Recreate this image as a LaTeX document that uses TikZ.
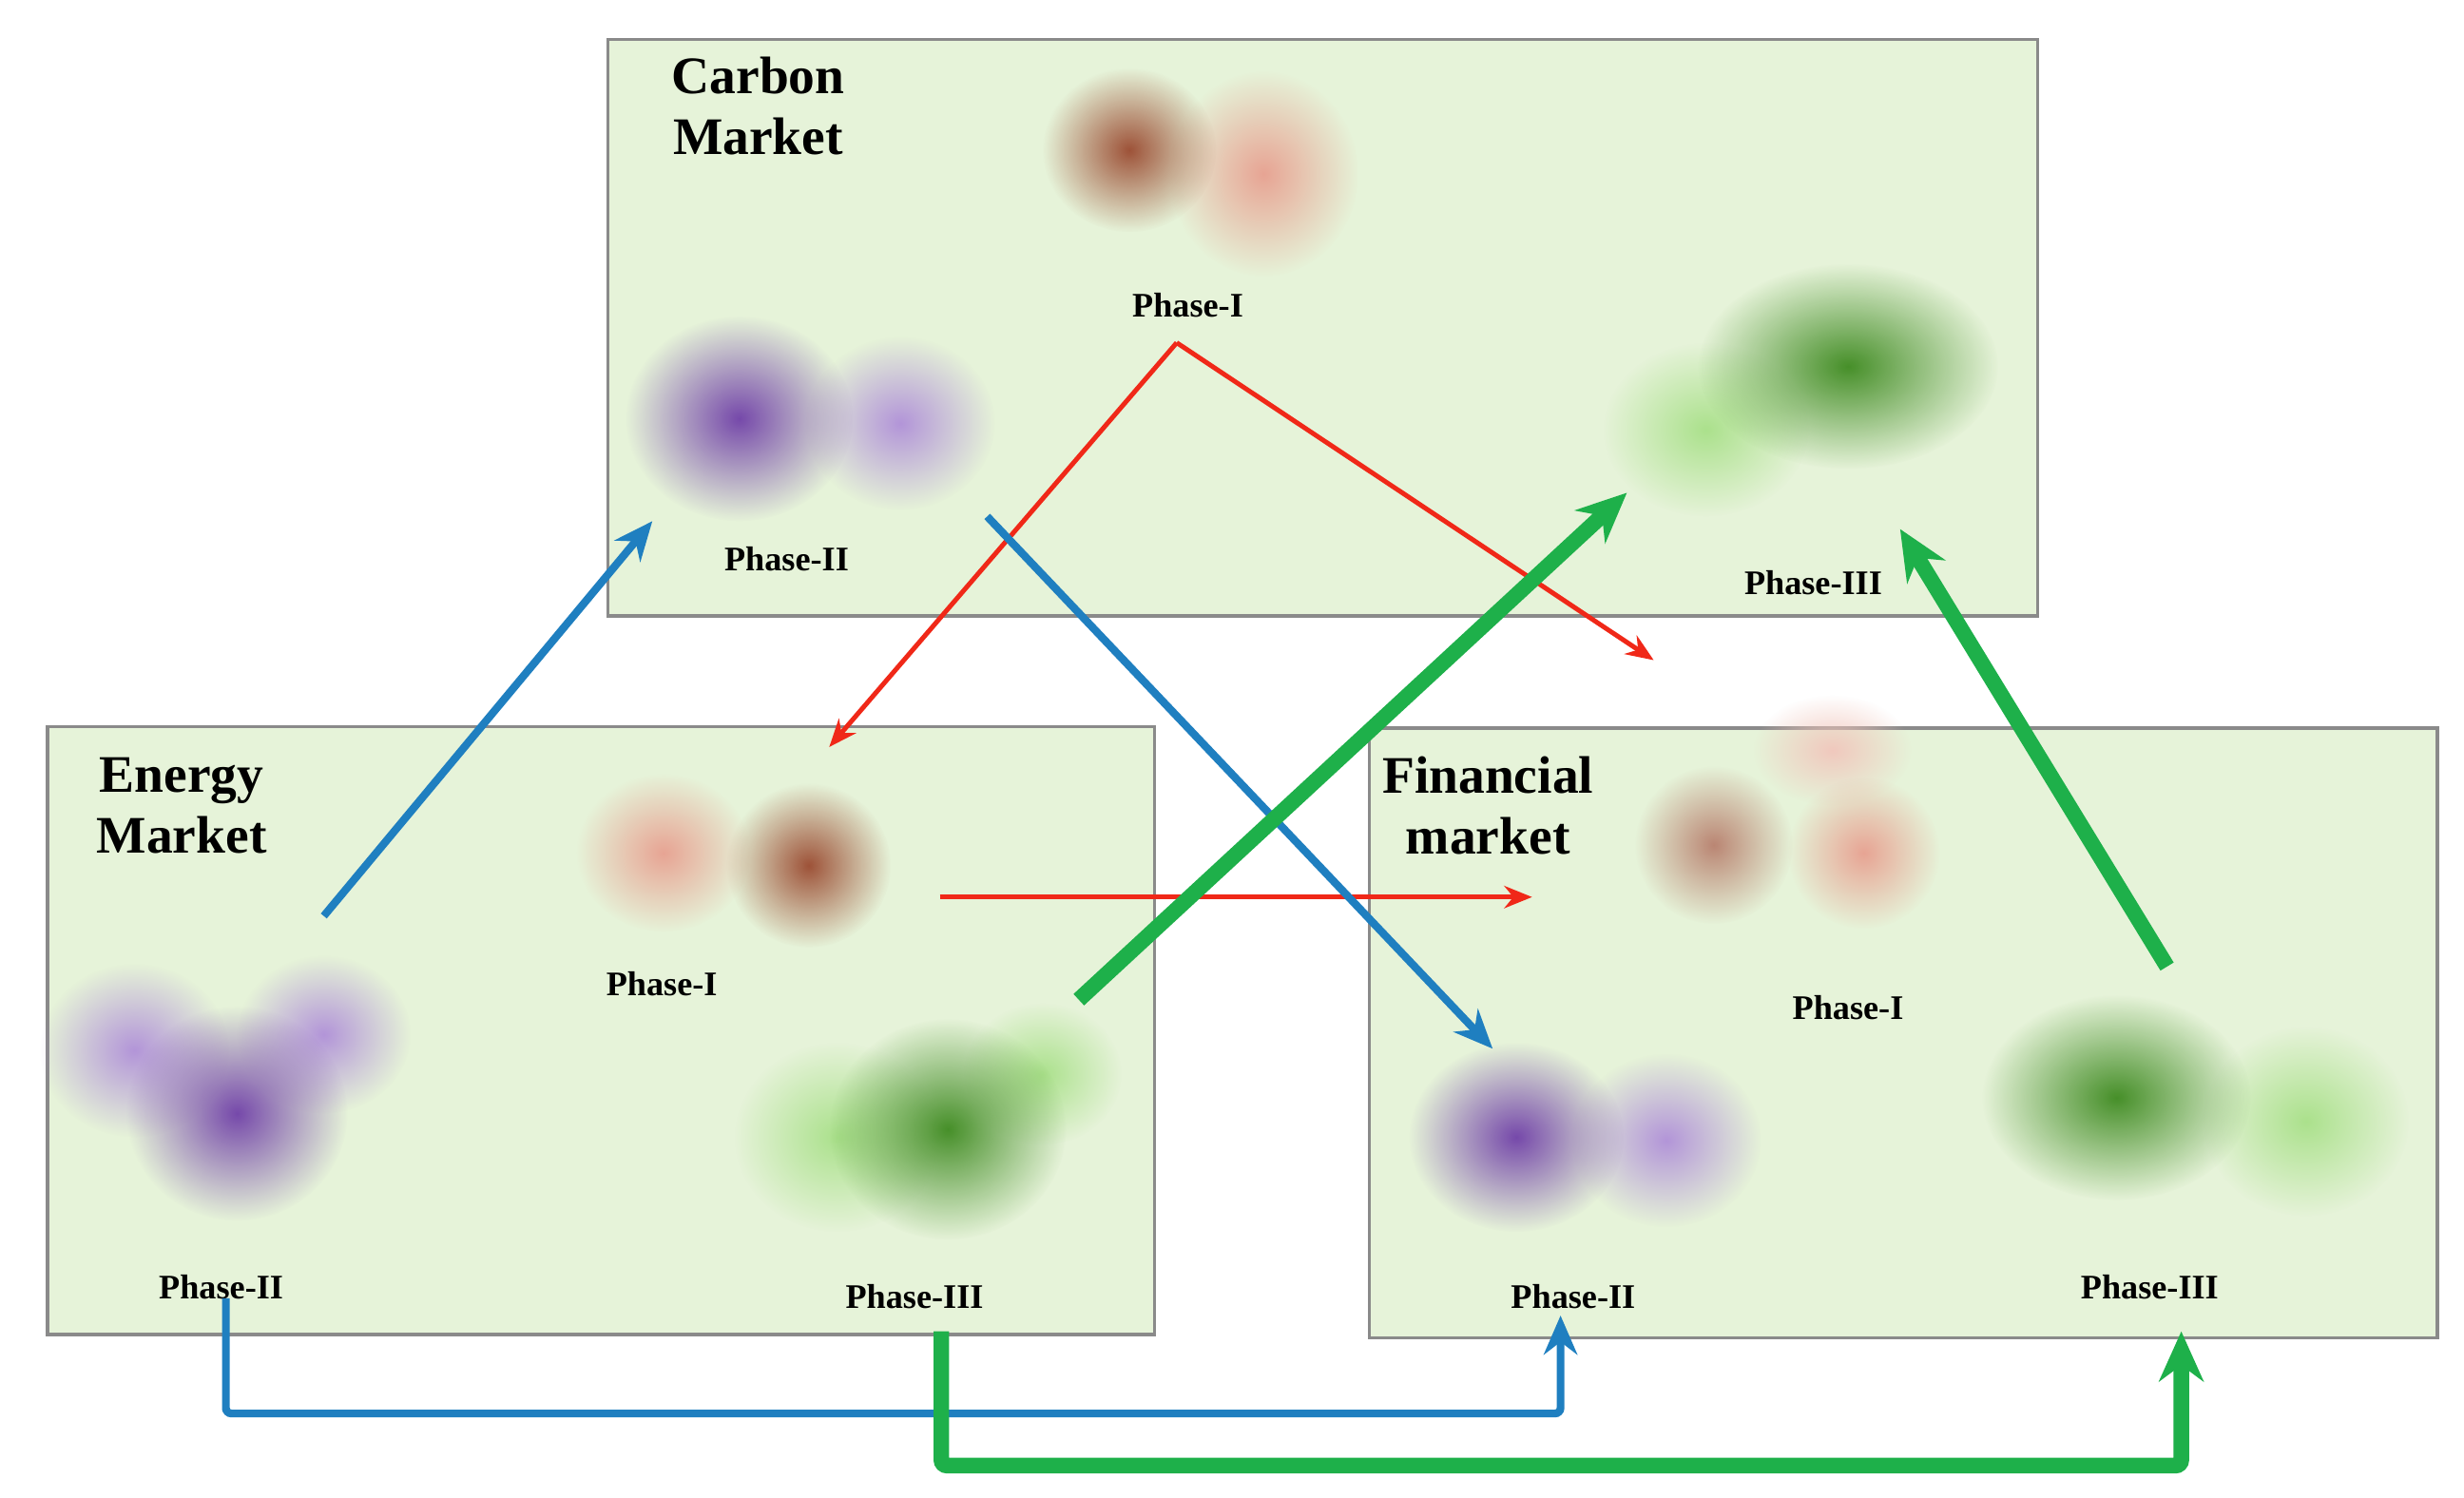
\documentclass[tikz,border=0pt]{standalone}
\usepackage{fontspec}
\setmainfont{Liberation Serif}
\usetikzlibrary{arrows.meta,fadings}
\definecolor{bg}{HTML}{E6F3D9}
\definecolor{bord}{HTML}{8A8A8A}
\definecolor{rd}{HTML}{F02818}
\definecolor{bl}{HTML}{1F7FC0}
\definecolor{gr}{HTML}{1EB04A}
\definecolor{brD}{HTML}{9A4A30}
\definecolor{brL}{HTML}{E8A090}
\definecolor{puD}{HTML}{7040A8}
\definecolor{puL}{HTML}{B090D8}
\definecolor{grD}{HTML}{3E8A20}
\definecolor{grL}{HTML}{A8E088}
\tikzfading[name=blobfade, inner color=transparent!0, outer color=transparent!100]
\tikzset{
 x=0.01cm,y=-0.01cm,
 box/.style={draw=bord,fill=bg,line width=0.6pt},
 title/.style={font=\bfseries\fontsize{9.5}{11}\selectfont,align=center},
 phase/.style={font=\bfseries\fontsize{6.2}{7}\selectfont},
 ra/.style={draw=rd,line width=0.85pt,-{Stealth[length=5pt,width=4pt]}},
 ba/.style={draw=bl,line width=1.4pt,-{Stealth[length=7pt,width=6pt]}},
 ga/.style={draw=gr,line width=2.8pt,-{Stealth[length=9pt,width=8pt]}},
}
\newcommand{\blob}[5]{\fill[#4,path fading=blobfade,fill opacity=0.95] (#1,#2) ellipse[x radius=#3,y radius=#5];}
\begin{document}
\begin{tikzpicture}
\useasboundingbox (0,0) rectangle (1560,948);
\fill[white] (0,0) rectangle (1560,948);
\draw[box] (385,25) rectangle (1290,390);
\draw[box] (30,460) rectangle (731,845);
\draw[box] (867,461) rectangle (1543,847);
% carbon clusters
\blob{800}{110}{60}{brL}{65}
\blob{715}{95}{55}{brD}{52}
\blob{570}{268}{60}{puL}{55}
\blob{468}{265}{72}{puD}{65}
\blob{1080}{272}{65}{grL}{55}
\blob{1170}{232}{95}{grD}{65}
% energy clusters
\blob{420}{540}{55}{brL}{50}
\blob{512}{548}{52}{brD}{52}
\blob{85}{665}{60}{puL}{55}
\blob{205}{655}{55}{puL}{50}
\blob{150}{705}{70}{puD}{68}
\blob{530}{720}{65}{grL}{60}
\blob{660}{680}{50}{grL}{45}
\blob{600}{715}{75}{grD}{70}
% financial clusters
\blob{1160}{475}{50}{brL!60}{35}
\blob{1085}{535}{50}{brD!70}{50}
\blob{1180}{540}{48}{brL}{48}
\blob{1055}{722}{60}{puL}{55}
\blob{960}{720}{68}{puD}{60}
\blob{1460}{710}{65}{grL}{60}
\blob{1340}{695}{85}{grD}{65}
% titles
\node[title] (ct) at (480,67) {Carbon\\Market};
\node[title] (et) at (115,510) {Energy\\Market};
\node[title] (ft) at (942,510) {Financial\\market};
\node[phase] (c1) at (752,193) {Phase-I};
\node[phase] (c2) at (498,354) {Phase-II};
\node[phase] (c3) at (1148,369) {Phase-III};
\node[phase] (e1) at (419,623) {Phase-I};
\node[phase] (e2) at (140,815) {Phase-II};
\node[phase] (e3) at (579,821) {Phase-III};
\node[phase] (f1) at (1170,638) {Phase-I};
\node[phase] (f2) at (996,821) {Phase-II};
\node[phase] (f3) at (1361,815) {Phase-III};
\coordinate (rA) at (745,217);
\coordinate (rE) at (525,473);
\coordinate (rF) at (1047,418);
\coordinate (rs) at (595,568);
\coordinate (rt) at (970,568);
\coordinate (b1s) at (205,580);
\coordinate (b1t) at (413,330);
\coordinate (b2s) at (625,327);
\coordinate (b2t) at (945,664);
\coordinate (b3s) at (143,822);
\coordinate (b3t) at (988,833);
\coordinate (g1s) at (683,633);
\coordinate (g1t) at (1030,312);
\coordinate (g2s) at (1372,612);
\coordinate (g2t) at (1203,335);
\coordinate (g3s) at (596,843);
\coordinate (g3t) at (1381,843);
\draw[ra] (rA) -- (rE);
\draw[ra] (rA) -- (rF);
\draw[ra] (rs) -- (rt);
\draw[ba] (b1s) -- (b1t);
\draw[ba] (b2s) -- (b2t);
\draw[ba,rounded corners=1pt] (b3s) |- ++(0,73) -| (b3t);
\draw[ga] (g1s) -- (g1t);
\draw[ga] (g2s) -- (g2t);
\draw[ga,rounded corners=1pt] (g3s) -- (596,928) -| (g3t);
\end{tikzpicture}
\end{document}
